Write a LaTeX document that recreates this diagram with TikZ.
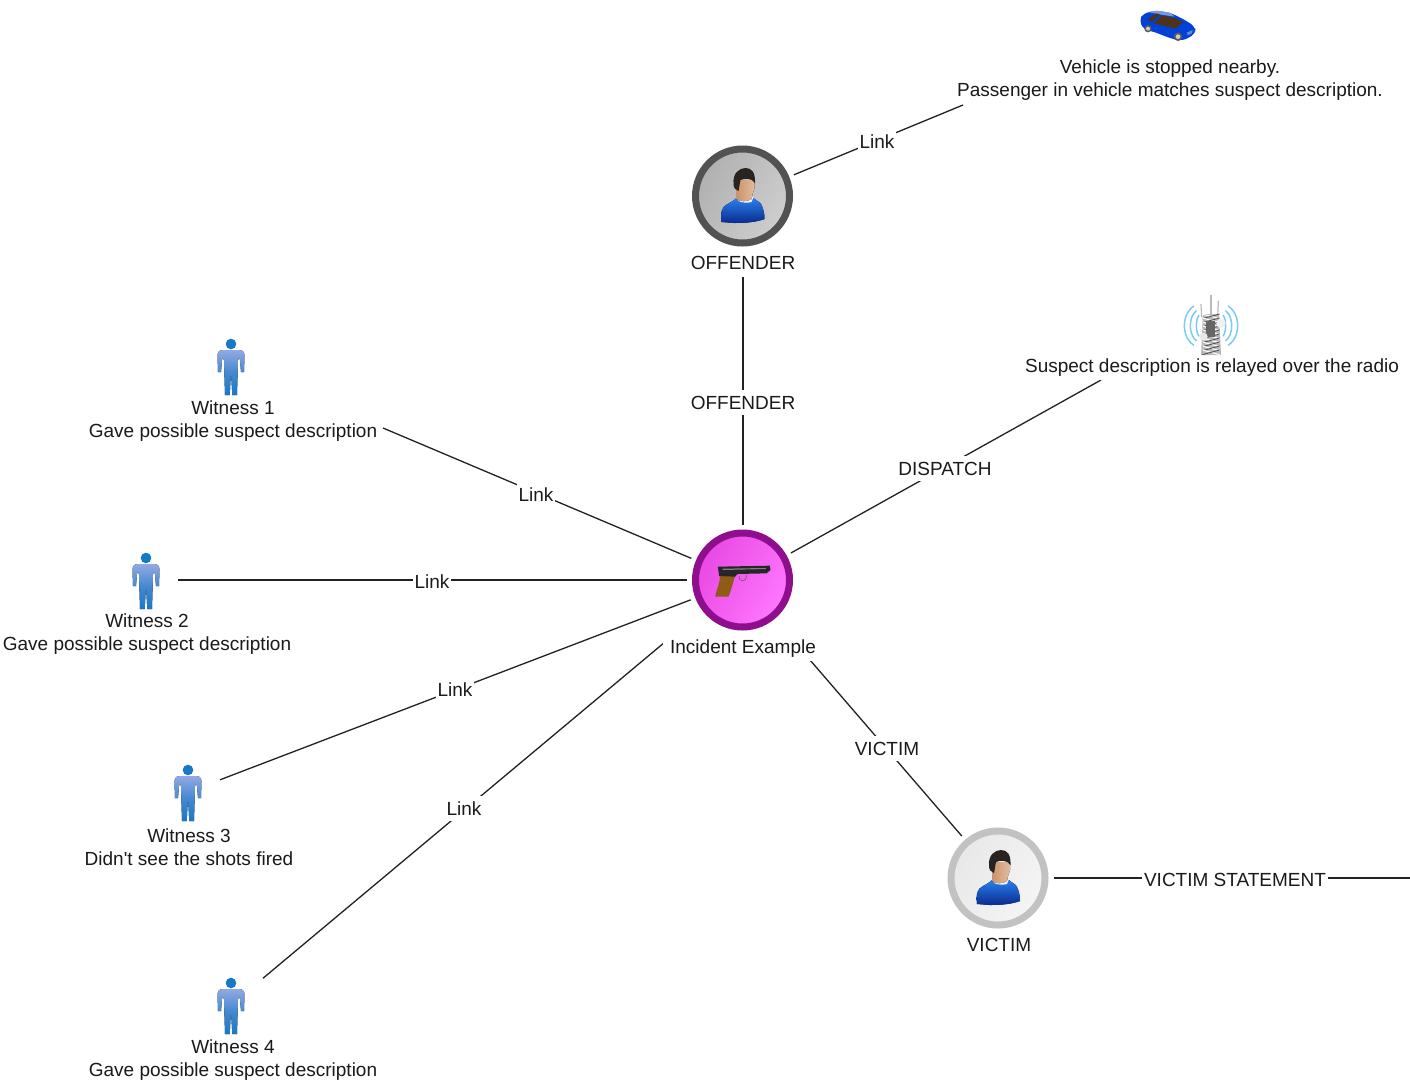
\documentclass[tikz,border=0pt]{standalone}
\usepackage{fontspec}
\setmainfont{Liberation Sans}
\usetikzlibrary{backgrounds}
\definecolor{inkc}{HTML}{222222}
\definecolor{txtc}{HTML}{1A1A1A}
\definecolor{shirtA}{HTML}{2A80EC}
\definecolor{shirtB}{HTML}{0A2A90}
\definecolor{skinA}{HTML}{C8946E}
\definecolor{skinB}{HTML}{E4BC9C}
\definecolor{hairc}{HTML}{2A2420}
\definecolor{figA}{HTML}{93A9E2}
\definecolor{figB}{HTML}{1878C8}
\definecolor{wavec}{HTML}{7CCBF5}
\definecolor{gripc}{HTML}{8F5C18}
\definecolor{ringI}{HTML}{8E0E8E}
\definecolor{fillIa}{HTML}{E848E2}
\definecolor{fillIb}{HTML}{FF78FF}
\tikzset{
  link/.style={draw=inkc,line width=1.3pt},
  lbl/.style={fill=white,inner xsep=2pt,inner ysep=0pt,minimum height=25pt,text height=13.8pt,text depth=0pt,text=txtc,font=\fontsize{19}{23}\selectfont},
  cap1/.style={fill=white,inner xsep=7pt,inner ysep=0pt,minimum height=28pt,text height=13.8pt,text depth=0pt,text=txtc,font=\fontsize{19}{23}\selectfont},
  cap2/.style={fill=white,inner xsep=5pt,inner ysep=2pt,align=center,text=txtc,font=\fontsize{19}{23}\selectfont},
  iconbox/.style={minimum size=64pt,inner sep=0pt,outer sep=0pt},
  hub/.style={circle,line width=7pt,minimum size=94pt,inner sep=0pt,outer sep=8.5pt},
  pics/person/.style={code={
    \fill[top color=shirtA,bottom color=shirtB] (-21,26) .. controls (-22,16) and (-21,11) .. (-15,8) .. controls (-11,6) and (-8,4) .. (-6,2) -- (11,2) .. controls (14,5) and (18,6) .. (19,9) .. controls (21,13) and (22,18) .. (22,23) .. controls (14,26) and (4,27) .. (-8,27) -- cycle;
    \fill[white!92!gray] (-6,1) -- (11,1) -- (9,6) .. controls (5,7) and (0,7) .. (-4,5) -- cycle;
    \fill[left color=skinA,right color=skinB] (-6,-12) -- (-6,3) .. controls (-2,6) and (4,6) .. (9,3) -- (10,-2) -- (12,-8) -- (12,-16) -- (-6,-16) -- cycle;
    \fill[hairc] (-9,-12) .. controls (-10,-23) and (-3,-28) .. (3,-28) .. controls (9,-28) and (13,-24) .. (12.5,-13) .. controls (9,-18) and (3,-18) .. (-2,-16) .. controls (-3,-12) and (-3,-9) .. (-4,-5) .. controls (-7,-6) and (-9,-8) .. (-9,-12) -- cycle;
  }},
  pics/figure/.style={code={
    \fill[figB] (0,-22) circle (5.3);
    \fill[top color=figA,bottom color=figB,middle color=figB!65!figA]
      (-8,-16) .. controls (-12,-16) and (-13.5,-14) .. (-13.5,-10) -- (-13,6) -- (-10,6) -- (-8.8,-8) -- (-7,-6) -- (-6,29) -- (-1.3,29) -- (0,6) -- (1.3,29) -- (6,29) -- (7,-6) -- (8.8,-8) -- (10,6) -- (13,6) -- (13.5,-10) .. controls (13.5,-14) and (12,-16) .. (8,-16) -- cycle;
  }},
  pics/sportscar/.style={code={
    \begin{scope}[scale=0.3333]
    \fill[blue!70!cyan!85!black,rounded corners=5pt] (-86,-18) -- (-74,-38) -- (-34,-46) -- (6,-40) -- (51,-18) -- (81,2) -- (84,22) -- (46,44) -- (16,40) -- (-44,17) -- (-74,10) -- cycle;
    \fill[cyan!45!blue!55!white] (-60,-42) -- (-34,-46) -- (6,-40) -- (20,-28) -- (-20,-34) -- cycle;
    \fill[black!60!brown] (-62,-20) -- (-34,-38) -- (-24,-34) -- (-48,-12) -- cycle;
    \fill[black!60!brown] (-42,-8) -- (-18,-32) -- (20,-24) -- (46,-12) -- (22,8) -- cycle;
    \fill[gray!70!black] (-60,8) circle (11); \fill[gray!40] (-60,8) circle (6);
    \fill[gray!70!black] (30,32) circle (13); \fill[gray!40] (30,32) circle (7);
    \fill[cyan!30!blue!60] (56,20) -- (74,12) -- (72,22) -- (60,28) -- cycle;
    \end{scope}
  }},
  pics/radiomast/.style={code={
    \begin{scope}[scale=0.3333]
    \foreach \rx/\ry in {14/35,32/50,50/65}{
      \draw[wavec,line width=1.5pt] (-30,5) ++(115:{\rx} and {\ry}) arc[start angle=115,end angle=245,x radius=\rx,y radius=\ry];
      \draw[wavec,line width=1.5pt] (30,5) ++(65:{\rx} and {\ry}) arc[start angle=65,end angle=-65,x radius=\rx,y radius=\ry];
    }
    \draw[gray!55,line width=1.2pt] (-30,-60) -- (-28,-20);
    \draw[gray!55,line width=1.2pt] (0,-87) -- (0,-20);
    \draw[gray!55,line width=1.2pt] (22,-70) -- (20,-20);
    \fill[gray!55] (-24,-30) -- (24,-30) -- (30,93) -- (-30,93) -- cycle;
    \foreach \k in {-30,-18,...,80}{
      \draw[white,line width=1pt] (-26,\k) -- (26,\k+14);
      \draw[black!70,line width=.8pt] (26,\k) -- (-26,\k+14);
    }
    \fill[black!60] (-14,-10) rectangle (12,40);
    \fill[white!88!gray] (30,-2) circle (14);
    \fill[white!82!gray] (-22,38) circle (12);
    \end{scope}
  }},
  pics/handgun/.style={code={
    \begin{scope}[scale=0.3333]
    \draw[black!60,line width=.7pt] (-10,-12) .. controls (-12,8) and (12,8) .. (12,-14);
    \fill[gripc] (-68,-16) -- (-22,-15) .. controls (-28,8) and (-34,30) .. (-42,50) -- (-82,50) .. controls (-78,25) and (-66,10) .. (-68,-16) -- cycle;
    \fill[black!85] (-74,-40) -- (82,-43) -- (84,-30) -- (72,-20) -- (-15,-18) -- (-22,-10) -- (-70,-12) -- cycle;
    \fill[black!50] (-60,-34) -- (70,-36) -- (70,-33) -- (-60,-30) -- cycle;
    \end{scope}
  }}
}
\begin{document}
\begin{tikzpicture}[x=1pt,y=-1pt]
\useasboundingbox (0,0) rectangle (1410,1088);

% hubs
\node[hub,draw=black!68,left color=gray!62,right color=gray!38,shading angle=60] (inc0) at (742.5,196) {};
\node[hub,draw=ringI,left color=fillIa,right color=fillIb,shading angle=60] (incident) at (742.5,580) {};
\node[hub,draw=gray!48,left color=gray!18,right color=gray!8,shading angle=60] (victim) at (998,878) {};

% icon nodes
\node[iconbox] (w1) at (231,366) {};
\node[iconbox] (w2) at (146,580) {};
\node[iconbox] (w3) at (188,792) {};
\node[iconbox] (w4) at (231,1005) {};

% where connectors stop at a caption
\coordinate (carend) at (963,105);
\coordinate (mastend) at (1101,380);
\coordinate (w1end) at (383,428);
\coordinate (w4start) at (665,642);
\coordinate (vicstart) at (810,660);
\coordinate (rightend) at (1410,878);

% captions
\node[cap1] (offcap) at (743,262.7) {OFFENDER};
\node[cap1] (inccap) at (743,646.7) {Incident Example};
\node[cap1] (viccap) at (999,944.7) {VICTIM};
\node[cap2] (carcap) at (1170,80) {Vehicle is stopped nearby.\\Passenger in vehicle matches suspect description.};
\node[cap1] (mastcap) at (1212,365.7) {Suspect description is relayed over the radio};
\node[cap2] (w1cap) at (233,421) {Witness 1\\Gave possible suspect description};
\node[cap2] (w2cap) at (147,634) {Witness 2\\Gave possible suspect description};
\node[cap2] (w3cap) at (189,847) {Witness 3\\Didn\textquotesingle t see the shots fired};
\node[cap2] (w4cap) at (233,1060) {Witness 4\\Gave possible suspect description};

% connector labels
\node[lbl] (lcar) at (877,141.7) {Link};
\node[lbl] (loff) at (743,402.7) {OFFENDER};
\node[lbl] (ldis) at (945,468.7) {DISPATCH};
\node[lbl] (lw1) at (536,494.7) {Link};
\node[lbl] (lw2) at (432,581.7) {Link};
\node[lbl] (lw3) at (455,689.7) {Link};
\node[lbl] (lw4) at (464,808.7) {Link};
\node[lbl] (lvic) at (887,748.7) {VICTIM};
\node[lbl] (lsta) at (1235,879.7) {VICTIM STATEMENT};

% connectors
\begin{pgfonlayer}{background}
\fill[white] (0,0) rectangle (1410,1088);
\draw[link] (inc0) -- (carend);
\draw[link] (offcap.south) -- (offcap.south |- incident.north);
\draw[link] (incident) -- (mastend);
\draw[link] (incident) -- (w1end);
\draw[link] (incident) -- (w2);
\draw[link] (incident) -- (w3);
\draw[link] (w4start) -- (w4);
\draw[link] (vicstart) -- (victim);
\draw[link] (victim) -- (rightend);
\end{pgfonlayer}

% icons
\pic at (inc0.center) {person};
\pic at (victim.center) {person};
\pic at (incident.center) {handgun};
\pic at (w1.center) {figure};
\pic at (w2.center) {figure};
\pic at (w3.center) {figure};
\pic at (w4.center) {figure};
\pic at (1168,26) {sportscar};
\pic at (1211,324) {radiomast};
\end{tikzpicture}
\end{document}
